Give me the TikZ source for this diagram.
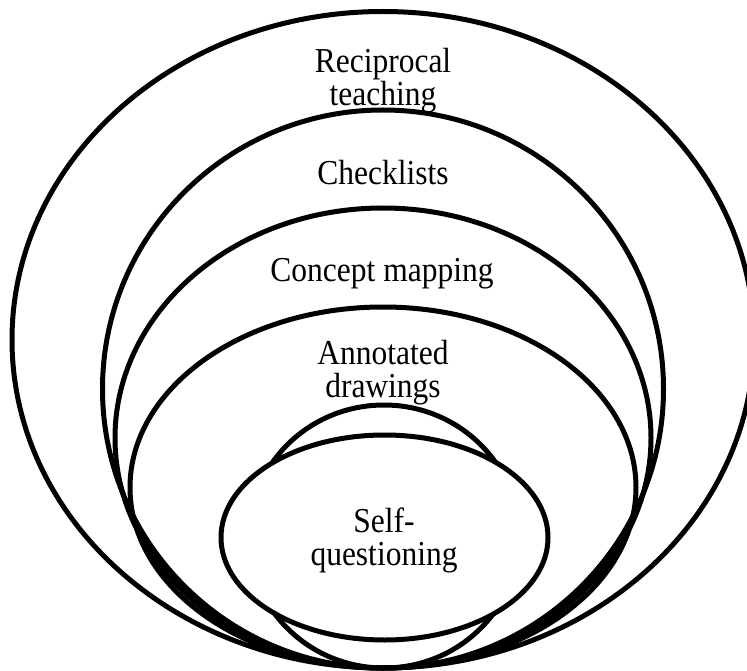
\documentclass[tikz,border=0pt]{standalone}
\usepackage{fontspec}
\setmainfont[FakeStretch=0.9]{Liberation Serif}
\usetikzlibrary{shapes.geometric}
\begin{document}
\begin{tikzpicture}[x=1pt,y=-1pt,
  ring/.style={ellipse, draw=black, line width=5pt, inner sep=0pt, outer sep=0pt},
  tag/.style={inner sep=0pt, align=center, font=\fontsize{35}{33}\selectfont}]
  \useasboundingbox (0,0) rectangle (747,671);
  % nested rings, all resting on the same bottom point
  \node[ring, minimum width=742pt, minimum height=656.5pt] (outer) at (383,339.75) {};
  \node[ring, minimum width=561pt, minimum height=558pt] (check) at (383,389) {};
  \node[ring, minimum width=536pt, minimum height=460pt] (concept) at (383,438) {};
  \node[ring, minimum width=506pt, minimum height=361pt] (annot) at (383,487.5) {};
  \node[ring, minimum width=270pt, minimum height=263pt] (core) at (384,536.5) {};
  % the innermost ellipse hides the middle of the small ring
  \node[ring, fill=white, minimum width=327pt, minimum height=205pt] (selfq) at (384.5,537.5) {};
  % labels
  \node[tag] (lrec) at (383,80.3) {Reciprocal\\teaching};
  \node[tag] (lchk) at (383,173) {Checklists};
  \node[tag] (lcon) at (382,273.8) {Concept mapping};
  \node[tag] (lann) at (383,372.8) {Annotated\\drawings};
  \node[tag] (lsq) at (384,540.3) {Self-\\questioning};
\end{tikzpicture}
\end{document}
